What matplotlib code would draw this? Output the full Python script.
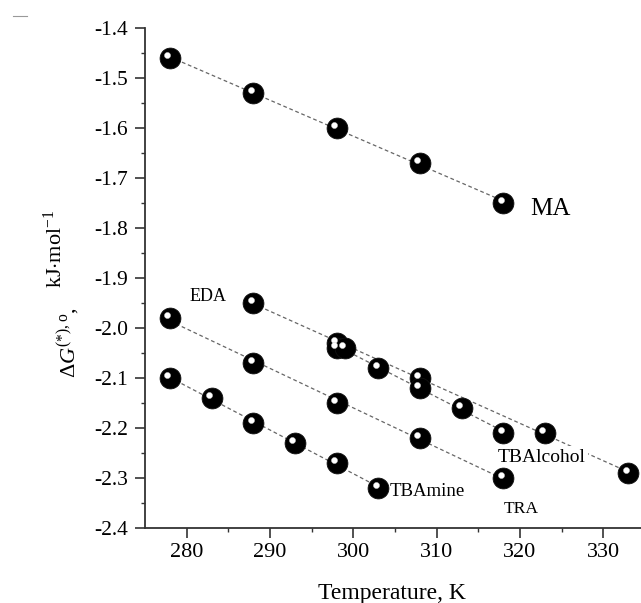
import numpy as np
import matplotlib
matplotlib.use("Agg")
import matplotlib.pyplot as plt
from matplotlib.transforms import offset_copy
from matplotlib.lines import Line2D

plt.rcParams['font.family'] = ['Liberation Serif', 'DejaVu Serif']
plt.rcParams['mathtext.fontset'] = 'custom'
plt.rcParams['mathtext.rm'] = 'Liberation Serif'
plt.rcParams['mathtext.it'] = 'Liberation Serif:italic'

# temperatures (K) and Gibbs energies (kJ/mol)
T_ma = [278, 288, 298, 308, 318]
G_ma = [-1.46, -1.53, -1.60, -1.67, -1.75]

T_eda = [288, 298, 308, 323, 333]
G_eda = [-1.95, -2.03, -2.10, -2.21, -2.29]

T_tbalc = [298, 299, 303, 308, 313, 318]
G_tbalc = [-2.04, -2.04, -2.08, -2.12, -2.16, -2.21]

T_tra = [278, 288, 298, 308, 318]
G_tra = [-1.98, -2.07, -2.15, -2.22, -2.30]

T_tbam = [278, 283, 288, 293, 298, 303]
G_tbam = [-2.10, -2.14, -2.19, -2.23, -2.27, -2.32]

series = [(T_ma, G_ma), (T_eda, G_eda), (T_tbalc, G_tbalc), (T_tra, G_tra), (T_tbam, G_tbam)]

fig = plt.figure(figsize=(6.41, 6.03), dpi=100)
ax = fig.add_axes([145/641, 1-528/603, 496/641, 500/603])

# white glint on each ball, shifted up-left
hl = offset_copy(ax.transData, fig=fig, x=-2.7, y=3.5, units='dots')
for T, G in series:
    T = np.array(T, float)
    G = np.array(G, float)
    k, b = np.polyfit(T, G, 1)
    xs = np.array([T.min(), T.max()])
    ax.plot(xs, k*xs + b, color='#666666', lw=0.9, ls=(0, (3, 2.2)), zorder=1)
    ax.plot(T, G, 'o', ms=15, color='black', mec='#111111', mew=0.6, zorder=3)
    ax.plot(T, G, 'o', ms=4.4, color='white', mec='#cccccc', mew=0.3, transform=hl, zorder=4)

# series labels
ax.text(321.2, -1.761, 'MA', fontsize=18, va='center', ha='left')
ax.text(280.4, -1.936, 'EDA', fontsize=13, va='center', ha='left')
ax.text(317.3, -2.258, 'TBAlcohol', fontsize=14, va='center', ha='left', zorder=2,
        bbox=dict(facecolor='white', edgecolor='none', pad=1.5))
ax.text(304.4, -2.326, 'TBAmine', fontsize=13.5, va='center', ha='left')
ax.text(318.0, -2.362, 'TRA', fontsize=12.6, va='center', ha='left')

ax.set_xlim(275, 334.52)
ax.set_ylim(-2.4, -1.4)
ax.set_xticks(np.arange(280, 331, 10))
ax.set_xticks(np.arange(285, 334, 10), minor=True)
ax.set_yticks(np.arange(-2.4, -1.39, 0.1))
ax.set_yticks(np.arange(-2.35, -1.4, 0.1), minor=True)
ax.set_yticklabels(['%.1f' % v for v in np.arange(-2.4, -1.39, 0.1)])

for s in ['top', 'right']:
    ax.spines[s].set_visible(False)
for s in ['left', 'bottom']:
    ax.spines[s].set_color('#333333')
    ax.spines[s].set_linewidth(1.3)
ax.tick_params(which='major', direction='out', length=7, width=1.2, color='#333333')
ax.tick_params(which='minor', direction='out', length=3, width=1.0, color='#333333')
ax.tick_params(axis='x', labelsize=16, pad=4)
ax.tick_params(axis='y', labelsize=15.5, pad=5)

ax.set_xlabel('Temperature, K', fontsize=17, va='top')
ax.xaxis.set_label_coords(0.498, -0.11)

# y label, two pieces as in the original
fig.text(75/641, 1-378/603, r'$\Delta G^{\mathregular{(*),o}}$,', fontsize=16, rotation=90,
         rotation_mode='anchor', ha='left', va='baseline')
fig.text(62/641, 1-288/603, r'kJ$\cdot$mol$^{\mathregular{-1}}$', fontsize=16, rotation=90,
         rotation_mode='anchor', ha='left', va='baseline')

fig.add_artist(Line2D([13/641, 27/641], [1-16/603, 1-16/603], color='#999999', lw=0.8))

fig.savefig('out.png', dpi=100)
